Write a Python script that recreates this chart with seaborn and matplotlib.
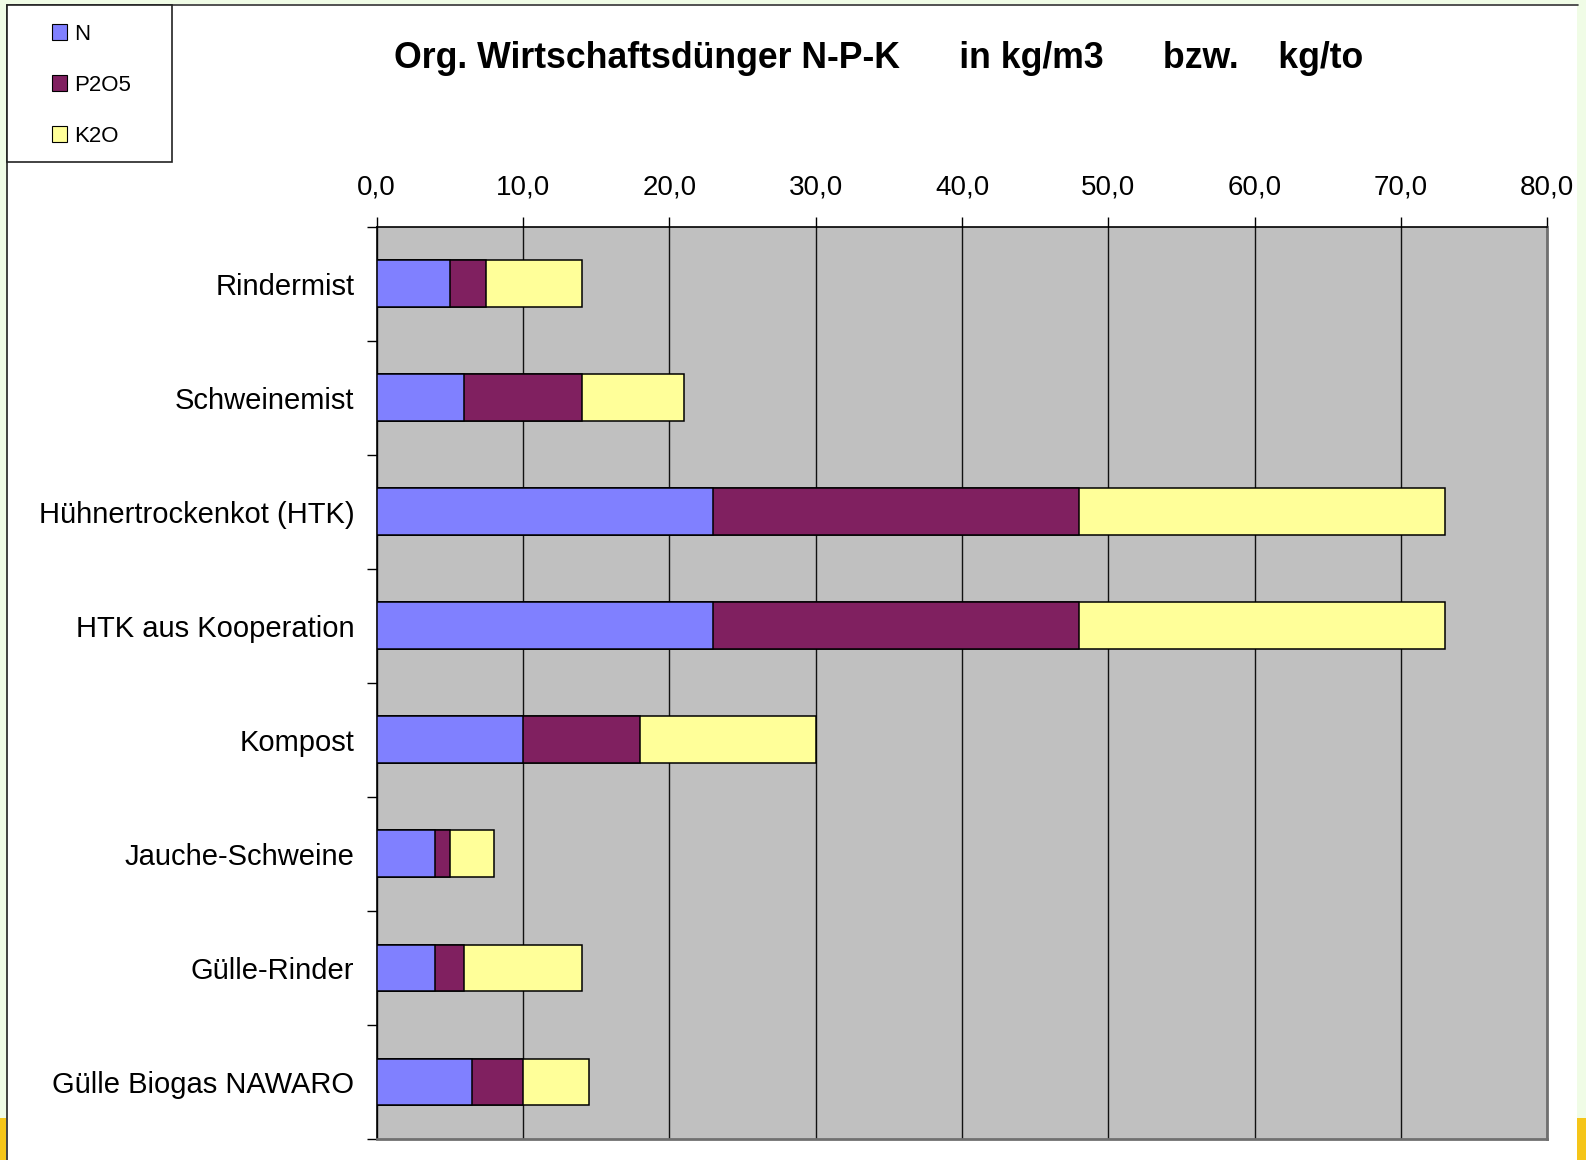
import matplotlib
matplotlib.use("Agg")
import matplotlib.pyplot as plt
import seaborn as sns
import pandas as pd
import numpy as np
from matplotlib.patches import Rectangle
from matplotlib.ticker import FixedLocator, FuncFormatter

categories = ["Rindermist", "Schweinemist", "Hühnertrockenkot (HTK)", "HTK aus Kooperation",
              "Kompost", "Jauche-Schweine", "Gülle-Rinder", "Gülle Biogas NAWARO"]
n_vals = [5.0, 6.0, 23.0, 23.0, 10.0, 4.0, 4.0, 6.5]
p2o5_vals = [2.5, 8.0, 25.0, 25.0, 8.0, 1.0, 2.0, 3.5]
k2o_vals = [6.5, 7.0, 25.0, 25.0, 12.0, 3.0, 8.0, 4.5]
series_names = ["N", "P2O5", "K2O"]
x_ticks = [0, 10, 20, 30, 40, 50, 60, 70, 80]
title = "Org. Wirtschaftsdünger N-P-K      in kg/m3      bzw.    kg/to"

colors = {"N": "#8080FF", "P2O5": "#802060", "K2O": "#FFFF99"}

df = pd.DataFrame({"cat": categories, "N": n_vals, "P2O5": p2o5_vals, "K2O": k2o_vals})
df["cum_N"] = df["N"]
df["cum_P"] = df["N"] + df["P2O5"]
df["cum_K"] = df["cum_P"] + df["K2O"]

sns.set_theme(style="white")
plt.rcParams["font.family"] = ["Liberation Sans", "DejaVu Sans"]
plt.rcParams["text.color"] = "black"
plt.rcParams["xtick.color"] = "black"
plt.rcParams["ytick.color"] = "black"

W, H = 1586, 1160
fig = plt.figure(figsize=(W / 100, H / 100), dpi=100)
fig.patch.set_facecolor("#F0FCE6")

# slide decoration
fig.patches.append(Rectangle((7 / W, 0), (1577 - 7) / W, 1 - 4 / H, transform=fig.transFigure,
                             facecolor="white", edgecolor="none", zorder=-10))
fig.lines.append(plt.Line2D([7 / W, 1578 / W], [1 - 4.5 / H, 1 - 4.5 / H], transform=fig.transFigure,
                            color="#333333", lw=1.2, zorder=-5))
fig.lines.append(plt.Line2D([7 / W, 7 / W], [0, 1 - 4.5 / H], transform=fig.transFigure,
                            color="#222222", lw=1.2, zorder=-5))
fig.patches.append(Rectangle((0, 0), 6 / W, 42 / H, transform=fig.transFigure,
                             facecolor="#F5C518", edgecolor="none", zorder=-10))
fig.patches.append(Rectangle((1577 / W, 0), 9 / W, 42 / H, transform=fig.transFigure,
                             facecolor="#F5C518", edgecolor="none", zorder=-10))

ax = fig.add_axes([376.7 / W, 21 / H, (1547.3 - 376.7) / W, (1139 - 226.6) / H])
ax.set_facecolor("#C0C0C0")

bw = 0.41
for col, name in [("cum_K", "K2O"), ("cum_P", "P2O5"), ("cum_N", "N")]:
    sns.barplot(data=df, y="cat", x=col, orient="h", color=colors[name], width=bw,
                edgecolor="black", linewidth=1.1, ax=ax, saturation=1, zorder=3)

ax.set_xlim(0, 80)
ax.set_ylim(len(categories) - 0.5, -0.5)
ax.set_xlabel("")
ax.set_ylabel("")

ax.xaxis.tick_top()
ax.xaxis.set_major_locator(FixedLocator(x_ticks))
ax.xaxis.set_major_formatter(FuncFormatter(lambda v, p: f"{v:.1f}".replace(".", ",")))
ax.tick_params(axis="x", which="major", top=True, bottom=False, length=7, width=1, color="black",
               direction="out", labelsize=20, pad=12, labelcolor="black")
ax.grid(axis="x", color="#111111", linewidth=1, zorder=1)
ax.set_axisbelow(True)

ax.set_yticks(range(len(categories)))
ax.set_yticklabels(categories)
ax.yaxis.set_minor_locator(FixedLocator(np.arange(-0.5, len(categories), 1.0)))
ax.tick_params(axis="y", which="major", left=True, length=0, labelsize=21, pad=16, labelcolor="black")
ax.tick_params(axis="y", which="minor", left=True, length=7, width=1, color="black", direction="out")

for s in ["left", "top"]:
    ax.spines[s].set_color("black")
    ax.spines[s].set_linewidth(1.2)
for s in ["right", "bottom"]:
    ax.spines[s].set_color("#707070")
    ax.spines[s].set_linewidth(2)

fig.text(879 / W, 1 - 59 / H, title, fontsize=25.7, fontweight="bold", ha="center", va="center",
         color="black")

# legend box
fig.patches.append(Rectangle((7 / W, 1 - 162 / H), (172 - 7) / W, (162 - 4.5) / H, transform=fig.transFigure,
                             facecolor="white", edgecolor="#222222", linewidth=1.2, zorder=2))
handles = [Rectangle((0, 0), 1, 1, facecolor=colors[n], edgecolor="black", linewidth=0.8) for n in series_names]
leg = fig.legend(handles, series_names, loc="upper left", bbox_to_anchor=(34 / W, 1 - 6 / H),
                 frameon=False, fontsize=16, handlelength=0.7, handleheight=0.7,
                 handletextpad=0.3, labelspacing=1.35, borderpad=0.3)
for t in leg.get_texts():
    t.set_color("black")
leg.set_zorder(3)

fig.savefig("out.png", dpi=100, facecolor=fig.get_facecolor())
